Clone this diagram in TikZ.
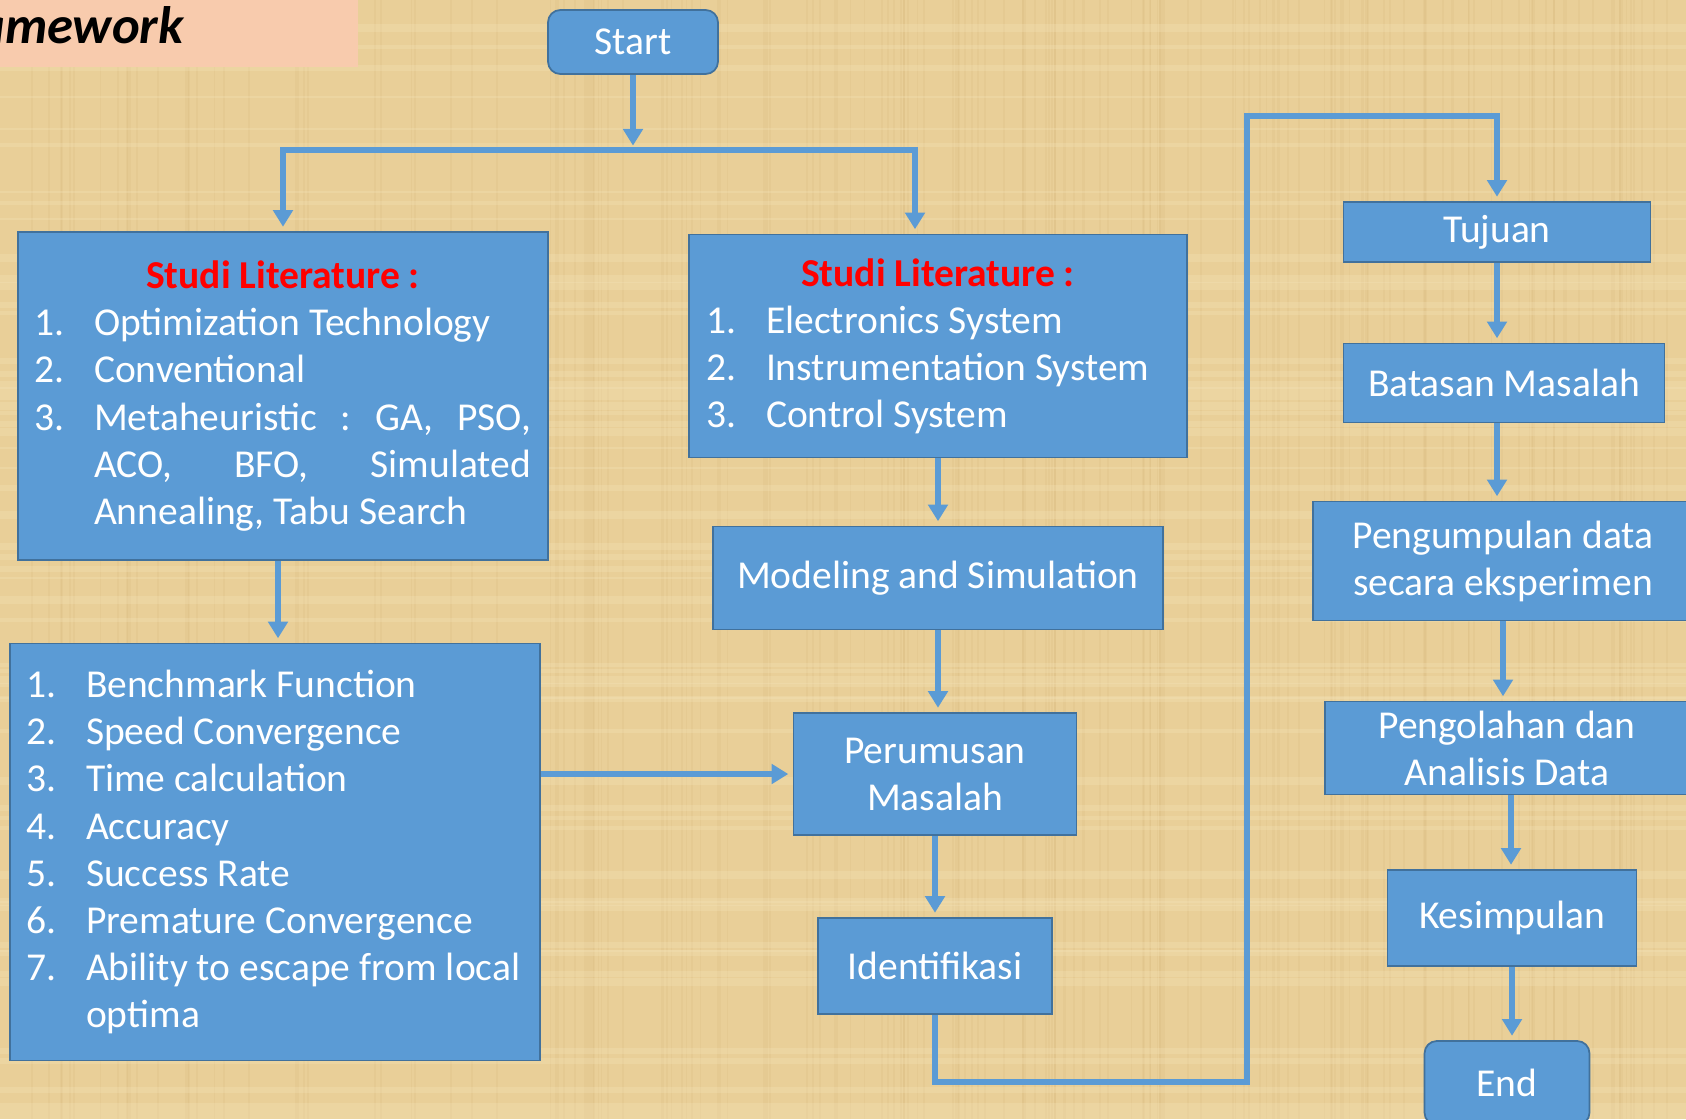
\documentclass[tikz,border=0pt]{standalone}
\usepackage{fontspec}
\setmainfont{Carlito}
\usetikzlibrary{arrows.meta,positioning}

\definecolor{paper}{RGB}{233,207,152}
\definecolor{paperdark}{RGB}{205,172,110}
\definecolor{paperlight}{RGB}{245,228,185}
\definecolor{boxblue}{RGB}{91,155,213}
\definecolor{boxline}{RGB}{65,113,156}
\definecolor{peach}{RGB}{248,203,173}

\newcommand{\nitem}[2]{\makebox[1.2cm][l]{#1}#2}
\newcommand{\ncont}[1]{\hspace*{1.2cm}#1}

\begin{document}
\begin{tikzpicture}[x=0.02cm,y=-0.02cm,
	box/.style={draw=boxline,line width=1pt,fill=boxblue,text=white,inner sep=0pt,
		font=\fontsize{22.5}{26.8}\selectfont},
	term/.style={box,rounded corners=7pt},
	link/.style={draw=boxblue,line width=3.8pt},
	arr/.style={link,-{Triangle[width=11pt,length=9.5pt]},shorten >=2.5pt}]
	\useasboundingbox (0,0) rectangle (1686,1119);
	\clip (0,0) rectangle (1686,1119);
	\fill[paper] (0,0) rectangle (1686,1119);
	% papyrus grain
	\pgfmathsetseed{7}
	\foreach \k in {1,...,160}{
		\pgfmathsetmacro{\gx}{random(0,1686)}
		\pgfmathsetmacro{\gw}{0.3+1.5*rnd}
		\draw[paperdark,opacity=0.14,line width=\gw pt] (\gx,0) -- (\gx,1119);
	}
	\foreach \k in {1,...,60}{
		\pgfmathsetmacro{\gy}{random(0,1119)}
		\pgfmathsetmacro{\gw}{1+4*rnd}
		\draw[paperlight,opacity=0.3,line width=\gw pt] (0,\gy) -- (1686,\gy);
	}
	% heading, cut by the page edge
	\fill[peach] (0,0) rectangle (358,67);
	\node[anchor=base east,font=\fontsize{30}{34}\selectfont\bfseries\itshape] (title) at (190,43) {Framework};

	\node[term,minimum width=3.4cm,minimum height=1.28cm] (start) at (633,42) {Start};

	\node[box,minimum width=10.6cm,minimum height=6.56cm,text width=9.96cm,align=flush left] (sla) at (283,396) {%
		\makebox[9.96cm][c]{\color{red}\bfseries Studi Literature :}\\
		\nitem{1.}{Optimization Technology}\\
		\nitem{2.}{Conventional}\\
		\nitem{3.}{\makebox[8.74cm][l]{Metaheuristic\hfill:\hfill GA,\hfill PSO,}}\\
		\ncont{\makebox[8.74cm][l]{ACO,\hfill BFO,\hfill Simulated}}\\
		\ncont{Annealing, Tabu Search}};

	\node[box,minimum width=10.6cm,minimum height=8.34cm,text width=9.96cm,align=flush left] (crit) at (275,852) {%
		\nitem{1.}{Benchmark Function}\\
		\nitem{2.}{Speed Convergence}\\
		\nitem{3.}{Time calculation}\\
		\nitem{4.}{Accuracy}\\
		\nitem{5.}{Success Rate}\\
		\nitem{6.}{Premature Convergence}\\
		\nitem{7.}{Ability to escape from local}\\
		\ncont{optima}};

	\node[box,minimum width=9.96cm,minimum height=4.46cm,text width=9.28cm,align=flush left] (slb) at (938,346) {%
		\makebox[9.28cm][c]{\color{red}\bfseries Studi Literature :}\\
		\nitem{1.}{Electronics System}\\
		\nitem{2.}{Instrumentation System}\\
		\nitem{3.}{Control System}};

	\node[box,minimum width=9cm,minimum height=2.06cm] (model) at (938,578) {Modeling and Simulation};
	\node[box,minimum width=5.66cm,minimum height=2.44cm,align=flush center] (rumus) at (935,774) {Perumusan\\Masalah};
	\node[box,minimum width=4.68cm,minimum height=1.92cm] (ident) at (935,966) {Identifikasi};

	\node[box,minimum width=6.14cm,minimum height=1.2cm] (tujuan) at (1497,232) {Tujuan};
	\node[box,minimum width=6.42cm,minimum height=1.58cm] (batas) at (1504,383) {Batasan Masalah};
	\node[box,minimum width=7.6cm,minimum height=2.38cm,align=flush center] (kumpul) at (1503,561) {Pengumpulan data\\secara eksperimen};
	\node[box,minimum width=7.28cm,minimum height=1.86cm,align=flush center] (olah) at (1507,748) {Pengolahan dan\\Analisis Data};
	\node[box,minimum width=4.98cm,minimum height=1.92cm] (simpul) at (1512,918) {Kesimpulan};
	\node[term,minimum width=3.3cm,minimum height=1.68cm] (fin) at (1507,1083) {End};

	% connectors
	\coordinate (split) at (633,150);
	\coordinate (jl) at (283,150);
	\coordinate (jr) at (915,150);
	\coordinate (low) at (1247,1082);
	\coordinate (high) at (1247,116);
	\draw[arr] (start) -- (split);
	\draw[arr] (jr) -- (jl) -- (jl |- sla.north);
	\draw[arr] (jl) -- (jr) -- (jr |- slb.north);
	\draw[arr] (sla.south) ++(-5,0) coordinate (sd) -- (sd |- crit.north);
	\draw[arr] (crit.east |- rumus.west) -- (rumus.west);
	\draw[arr] (slb.south) -- (slb.south |- model.north);
	\draw[arr] (model.south) -- (model.south |- rumus.north);
	\draw[arr] (rumus.south) -- (rumus.south |- ident.north);
	\draw[arr] (ident.south) |- (low) -- (high) -| (tujuan.north);
	\draw[arr] (tujuan.south) -- (tujuan.south |- batas.north);
	\draw[arr] (tujuan.south |- batas.south) -- (tujuan.south |- kumpul.north);
	\draw[arr] (kumpul.south) -- (kumpul.south |- olah.north);
	\draw[arr] (olah.south) ++(4,0) coordinate (od) -- (od |- simpul.north);
	\draw[arr] (simpul.south) -- (simpul.south |- fin.north);
\end{tikzpicture}
\end{document}
